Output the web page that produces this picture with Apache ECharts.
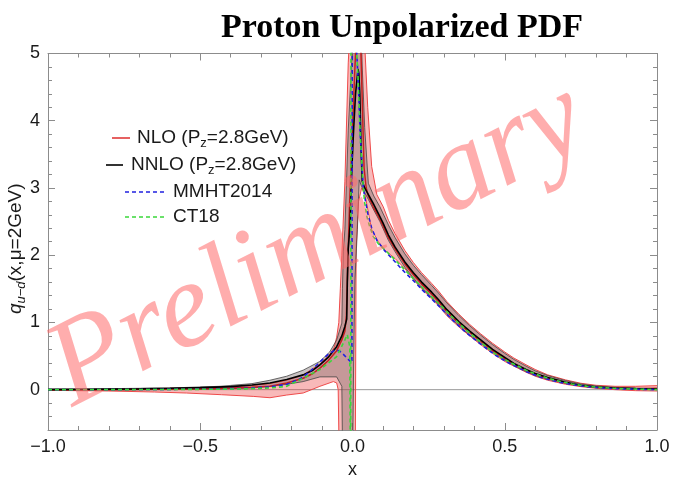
<!DOCTYPE html>
<html><head><meta charset="utf-8">
<script src="https://cdn.jsdelivr.net/npm/echarts@6/dist/echarts.min.js"></script>
<style>html,body{margin:0;padding:0;background:#fff}#c{width:675px;height:479px}</style>
</head><body><div id="c"></div>
<script>
// ---------------- data ----------------
const yTickValues = [0, 1, 2, 3, 4, 5];
const yMinorTickValues = [-0.6,-0.4,-0.2,0.2,0.4,0.6,0.8,1.2,1.4,1.6,1.8,2.2,2.4,2.6,2.8,3.2,3.4,3.6,3.8,4.2,4.4,4.6,4.8];

// NNLO (Pz=2.8GeV) central and error band
const nnloCentral = [[-1,0],[-0.85,0.005],[-0.7,0.012],[-0.6,0.02],[-0.5,0.03],[-0.4,0.045],[-0.33,0.07],[-0.271,0.1],[-0.216,0.15],[-0.162,0.22],[-0.13,0.29],[-0.107,0.37],[-0.08,0.48],[-0.052,0.64],[-0.035,0.8],[-0.025,0.94],[-0.019,1.05],[-0.017,1.6],[-0.014,2.1],[-0.008,2.45],[-0.002,3.3],[0.004,3.9],[0.01,4.4],[0.018,4.77],[0.021,4.7],[0.024,4.4],[0.028,3.6],[0.032,3.1],[0.04,3.0],[0.05,2.92],[0.068,2.77],[0.085,2.62],[0.1,2.48],[0.118,2.3],[0.14,2.12],[0.172,1.9],[0.2,1.74],[0.227,1.6],[0.26,1.45],[0.282,1.34],[0.31,1.19],[0.35,1.01],[0.385,0.87],[0.421,0.74],[0.46,0.6],[0.5,0.48],[0.53,0.39],[0.57,0.3],[0.6,0.24],[0.641,0.18],[0.7,0.11],[0.75,0.065],[0.8,0.04],[0.862,0.025],[0.93,0.015],[1,0.01]];
const nnloUpper = [[-1,0.01],[-0.8,0.015],[-0.6,0.025],[-0.435,0.05],[-0.33,0.09],[-0.271,0.14],[-0.216,0.2],[-0.162,0.29],[-0.107,0.42],[-0.075,0.56],[-0.052,0.74],[-0.035,0.99],[-0.033,1.5],[-0.03,2.06],[-0.025,2.38],[-0.014,3.86],[-0.003,4.86],[0.003,5.4],[0.028,5.4],[0.032,4.8],[0.04,3.9],[0.052,3.07],[0.07,2.88],[0.09,2.72],[0.118,2.45],[0.14,2.26],[0.172,2.02],[0.2,1.85],[0.227,1.71],[0.26,1.55],[0.282,1.44],[0.31,1.29],[0.35,1.1],[0.385,0.95],[0.421,0.81],[0.46,0.67],[0.5,0.54],[0.53,0.45],[0.57,0.35],[0.6,0.28],[0.641,0.21],[0.7,0.135],[0.75,0.085],[0.8,0.055],[0.862,0.035],[0.93,0.022],[1,0.015]];
const nnloLower = [[-1,-0.005],[-0.8,-0.005],[-0.6,0],[-0.435,0.01],[-0.33,0.025],[-0.271,0.05],[-0.216,0.08],[-0.162,0.12],[-0.107,0.19],[-0.052,0.19],[-0.035,0.05],[-0.032,-1.2],[0,-1.2],[0.004,0.5],[0.008,1.63],[0.016,2.38],[0.022,3.12],[0.03,3.02],[0.04,2.93],[0.052,2.83],[0.07,2.67],[0.09,2.5],[0.118,2.22],[0.14,2.05],[0.172,1.82],[0.2,1.66],[0.227,1.52],[0.26,1.37],[0.282,1.27],[0.31,1.12],[0.35,0.95],[0.385,0.81],[0.421,0.69],[0.46,0.56],[0.5,0.44],[0.53,0.36],[0.57,0.27],[0.6,0.21],[0.641,0.155],[0.7,0.095],[0.75,0.055],[0.8,0.03],[0.862,0.018],[0.93,0.01],[1,0.006]];

// NLO (Pz=2.8GeV) central and error band
const nloCentral = [[-1,0],[-0.8,0],[-0.6,0.008],[-0.5,0.015],[-0.4,0.025],[-0.33,0.035],[-0.271,0.05],[-0.216,0.1],[-0.162,0.17],[-0.13,0.24],[-0.107,0.32],[-0.08,0.43],[-0.052,0.58],[-0.035,0.74],[-0.025,0.87],[-0.02,1.1],[-0.016,1.8],[-0.01,2.7],[0,3.9],[0.008,4.8],[0.014,5.4],[0.026,5.3],[0.032,4.3],[0.038,3.3],[0.045,3.0],[0.052,2.88],[0.068,2.72],[0.085,2.58],[0.1,2.44],[0.118,2.26],[0.14,2.09],[0.172,1.87],[0.2,1.71],[0.227,1.57],[0.26,1.42],[0.282,1.31],[0.31,1.16],[0.35,0.98],[0.385,0.85],[0.421,0.72],[0.46,0.58],[0.5,0.46],[0.53,0.38],[0.57,0.29],[0.6,0.23],[0.641,0.17],[0.7,0.1],[0.75,0.06],[0.8,0.035],[0.862,0.02],[0.93,0.015],[1,0.02]];
const nloUpper = [[-1,0.005],[-0.8,0.01],[-0.6,0.02],[-0.45,0.035],[-0.33,0.06],[-0.271,0.09],[-0.216,0.14],[-0.162,0.22],[-0.107,0.38],[-0.075,0.52],[-0.06,0.63],[-0.052,0.78],[-0.045,1.0],[-0.04,1.5],[-0.035,2.0],[-0.025,3.1],[-0.014,4.86],[-0.008,5.4],[0.038,5.4],[0.041,5.05],[0.05,4.2],[0.063,3.32],[0.08,2.9],[0.101,2.72],[0.118,2.52],[0.14,2.32],[0.172,2.07],[0.2,1.89],[0.227,1.74],[0.26,1.58],[0.282,1.47],[0.31,1.31],[0.35,1.12],[0.385,0.97],[0.421,0.83],[0.46,0.69],[0.5,0.56],[0.53,0.47],[0.57,0.37],[0.6,0.3],[0.641,0.22],[0.7,0.145],[0.75,0.095],[0.8,0.065],[0.862,0.05],[0.93,0.05],[1,0.06]];
const nloLower = [[-1,-0.01],[-0.8,-0.02],[-0.65,-0.035],[-0.545,-0.05],[-0.43,-0.075],[-0.326,-0.1],[-0.271,-0.12],[-0.216,-0.08],[-0.162,-0.05],[-0.107,0.05],[-0.063,0.12],[-0.052,0.1],[-0.047,0],[-0.043,-1.2],[0.009,-1.2],[0.012,2.1],[0.02,2.8],[0.03,3.0],[0.041,2.9],[0.063,2.38],[0.085,2.2],[0.107,2.07],[0.14,1.95],[0.172,1.8],[0.2,1.64],[0.227,1.5],[0.26,1.35],[0.282,1.25],[0.31,1.1],[0.35,0.93],[0.385,0.8],[0.421,0.67],[0.46,0.54],[0.5,0.42],[0.53,0.35],[0.57,0.26],[0.6,0.2],[0.641,0.14],[0.7,0.08],[0.75,0.045],[0.8,0.02],[0.862,0],[0.93,-0.015],[1,-0.02]];

// global fits
const mmht2014 = [[-1,0],[-0.8,0],[-0.6,0.004],[-0.45,0.01],[-0.35,0.02],[-0.271,0.04],[-0.216,0.08],[-0.172,0.16],[-0.14,0.27],[-0.107,0.41],[-0.079,0.53],[-0.06,0.58],[-0.045,0.58],[-0.035,0.55],[-0.014,0.45],[-0.002,0.4],[0.001,12],[0.014,5.0],[0.019,4.56],[0.025,3.82],[0.035,3.02],[0.041,2.85],[0.05,2.62],[0.063,2.4],[0.08,2.22],[0.107,2.06],[0.13,1.95],[0.15,1.85],[0.175,1.73],[0.205,1.6],[0.23,1.48],[0.26,1.35],[0.293,1.2],[0.33,1.03],[0.37,0.86],[0.42,0.68],[0.47,0.51],[0.52,0.38],[0.57,0.27],[0.62,0.18],[0.67,0.12],[0.72,0.075],[0.77,0.045],[0.82,0.025],[0.87,0.014],[0.93,0.006],[1,0]];
const ct18 = [[-1,0],[-0.8,0],[-0.6,0.003],[-0.45,0.006],[-0.35,0.012],[-0.271,0.025],[-0.216,0.05],[-0.162,0.17],[-0.107,0.3],[-0.052,0.49],[-0.025,0.74],[-0.017,0.82],[-0.009,0.64],[-0.006,-2],[-0.004,12],[0.014,5.0],[0.019,4.56],[0.025,3.82],[0.035,3.02],[0.04,2.78],[0.047,2.58],[0.055,2.45],[0.068,2.28],[0.085,2.17],[0.115,2.04],[0.14,1.93],[0.17,1.79],[0.2,1.65],[0.227,1.53],[0.26,1.38],[0.293,1.24],[0.33,1.07],[0.37,0.9],[0.42,0.71],[0.47,0.53],[0.52,0.4],[0.57,0.29],[0.62,0.2],[0.67,0.135],[0.72,0.085],[0.77,0.05],[0.82,0.03],[0.87,0.017],[0.93,0.008],[1,0]];

// ---------------- chart ----------------
const SANS = '"Liberation Sans", Arial, sans-serif';
const AXC = '#8c8c8c';
const chart = echarts.init(document.getElementById('c'), null, {renderer: 'canvas'});

function fmtX(v) {
  const s = Math.abs(v).toFixed(1);
  return v < -1e-9 ? '\u2212' + s : s;
}
function xAxisDef(pos, showLabel) {
  return {
    type: 'value', position: pos, min: -1, max: 1, interval: 0.5,
    axisLine: {show: true, onZero: false, lineStyle: {color: AXC, width: 1}},
    axisTick: {show: true, inside: true, length: 7, lineStyle: {color: AXC}},
    minorTick: {show: true, splitNumber: 5, length: 4, lineStyle: {color: AXC}},
    splitLine: {show: false}, minorSplitLine: {show: false},
    axisLabel: {show: showLabel, formatter: fmtX, fontSize: 18, fontFamily: SANS, color: '#1a1a1a', margin: 8},
    name: showLabel ? 'x' : '', nameLocation: 'middle', nameGap: 31,
    nameTextStyle: {fontSize: 18, fontFamily: SANS, color: '#1a1a1a'}
  };
}
function yAxisDef(pos, ticks, len, showLine, showLabel) {
  const d = {
    type: 'value', position: pos, min: -0.6, max: 5,
    axisLine: {show: showLine, onZero: false, lineStyle: {color: AXC, width: 1}},
    axisTick: {show: true, inside: true, length: len, customValues: ticks, lineStyle: {color: AXC}},
    splitLine: {show: false},
    axisLabel: {show: showLabel, customValues: ticks, fontSize: 18, fontFamily: SANS, color: '#1a1a1a', margin: 8}
  };
  if (showLabel) {
    d.name = '{q|q}{s|u\u2212d}{t|(x,\u03bc=2GeV)}';
    d.nameLocation = 'middle';
    d.nameGap = 20;
    d.nameMoveOverlap = false;
    d.nameTextStyle = {
      padding: [0, 0, 0, -14],
      rich: {
        q: {fontSize: 19, fontFamily: SANS, fontStyle: 'italic', color: '#1a1a1a', lineHeight: 24, verticalAlign: 'middle'},
        s: {fontSize: 13, fontFamily: SANS, fontStyle: 'italic', color: '#1a1a1a', lineHeight: 24, verticalAlign: 'bottom'},
        t: {fontSize: 19, fontFamily: SANS, color: '#1a1a1a', lineHeight: 24, verticalAlign: 'middle'}
      }
    };
  }
  return d;
}

function band(upper, lower, fill, z) {
  return {
    type: 'custom', coordinateSystem: 'cartesian2d', xAxisIndex: 0, yAxisIndex: 0,
    silent: true, z: z, clip: true, animation: false,
    data: [[0, 0]],
    renderItem: function (params, api) {
      const pts = [];
      for (let i = 0; i < upper.length; i++) pts.push(api.coord(upper[i]));
      for (let i = lower.length - 1; i >= 0; i--) pts.push(api.coord(lower[i]));
      const cs = params.coordSys;
      return {
        type: 'group',
        clipPath: {type: 'rect', shape: {x: cs.x, y: cs.y, width: cs.width, height: cs.height}},
        children: [{type: 'polygon', shape: {points: pts}, style: {fill: fill, stroke: null}}]
      };
    }
  };
}
function line(name, data, color, width, dash, z) {
  return {
    type: 'line', name: name, data: data, xAxisIndex: 0, yAxisIndex: 0,
    showSymbol: false, symbol: 'none', clip: true, silent: true, z: z, animation: false,
    lineStyle: {color: color, width: width, type: dash ? [4, 3] : 'solid'}
  };
}
const legendRich = {
  t: {fontSize: 19, fontFamily: SANS, fill: '#1a1a1a', lineHeight: 24, verticalAlign: 'middle'},
  s: {fontSize: 13, fontFamily: SANS, fill: '#1a1a1a', lineHeight: 24, verticalAlign: 'bottom'}
};

const option = {
  backgroundColor: '#ffffff',
  animation: false,
  grid: {left: 48, right: 18, top: 53.5, bottom: 49, outerBoundsMode: 'none'},
  xAxis: [xAxisDef('bottom', true), xAxisDef('top', false)],
  yAxis: [
    yAxisDef('left', yTickValues, 7, true, true),
    yAxisDef('left', yMinorTickValues, 4, false, false),
    yAxisDef('right', yTickValues, 7, true, false),
    yAxisDef('right', yMinorTickValues, 4, false, false)
  ],
  series: [
    line('zero', [[-1, 0], [1, 0]], '#9a9a9a', 1, false, 1),
    band(nloUpper, nloLower, 'rgba(235,60,60,0.36)', 2),
    band(nnloUpper, nnloLower, 'rgba(120,105,105,0.40)', 3),
    line('NLO upper', nloUpper, '#ee4a4a', 1, false, 4),
    line('NLO lower', nloLower, '#ee4a4a', 1, false, 4),
    line('NNLO upper', nnloUpper, '#444444', 0.8, false, 5),
    line('NNLO lower', nnloLower, '#444444', 0.8, false, 5),
    line('NLO (Pz=2.8GeV)', nloCentral, '#c81e1e', 1.5, false, 6),
    line('NNLO (Pz=2.8GeV)', nnloCentral, '#000000', 1.6, false, 7),
    line('MMHT2014', mmht2014, '#2020e0', 1.6, true, 8),
    line('CT18', ct18, '#3ad83a', 1.6, true, 9)
  ],
  graphic: [
    {type: 'text', x: 402, y: 28, z: 50, silent: true,
     style: {text: 'Proton Unpolarized PDF', fontFamily: '"Liberation Serif", serif', fontWeight: 'bold', fontSize: 34, fill: '#000', align: 'center', verticalAlign: 'middle'}},
    // legend
    {type: 'line', z: 50, silent: true, shape: {x1: 112, y1: 138, x2: 130, y2: 138}, style: {stroke: '#e03a3a', lineWidth: 1.6}},
    {type: 'text', x: 137, y: 138, z: 50, silent: true,
     style: {text: '{t|NLO (P}{s|z}{t|=2.8GeV)}', align: 'left', verticalAlign: 'middle', rich: legendRich}},
    {type: 'line', z: 50, silent: true, shape: {x1: 106, y1: 165, x2: 123, y2: 165}, style: {stroke: '#000', lineWidth: 1.6}},
    {type: 'text', x: 131, y: 165, z: 50, silent: true,
     style: {text: '{t|NNLO (P}{s|z}{t|=2.8GeV)}', align: 'left', verticalAlign: 'middle', rich: legendRich}},
    {type: 'line', z: 50, silent: true, shape: {x1: 125, y1: 192, x2: 165, y2: 192}, style: {stroke: '#2020e0', lineWidth: 1.6, lineDash: [4, 3]}},
    {type: 'text', x: 173, y: 192, z: 50, silent: true,
     style: {text: 'MMHT2014', fontSize: 19, fontFamily: SANS, fill: '#1a1a1a', align: 'left', verticalAlign: 'middle'}},
    {type: 'line', z: 50, silent: true, shape: {x1: 125, y1: 217, x2: 165, y2: 217}, style: {stroke: '#3ad83a', lineWidth: 1.6, lineDash: [4, 3]}},
    {type: 'text', x: 173, y: 217, z: 50, silent: true,
     style: {text: 'CT18', fontSize: 19, fontFamily: SANS, fill: '#1a1a1a', align: 'left', verticalAlign: 'middle'}},
    // watermark
    {type: 'text', x: 318, y: 246, rotation: 0.471, z: 100, silent: true,
     style: {text: 'Preliminary', fontFamily: '"Liberation Serif", serif', fontStyle: 'italic', fontSize: 122, fill: 'rgba(255,105,105,0.55)', align: 'center', verticalAlign: 'middle'}}
  ]
};
chart.setOption(option);
</script>
</body></html>
